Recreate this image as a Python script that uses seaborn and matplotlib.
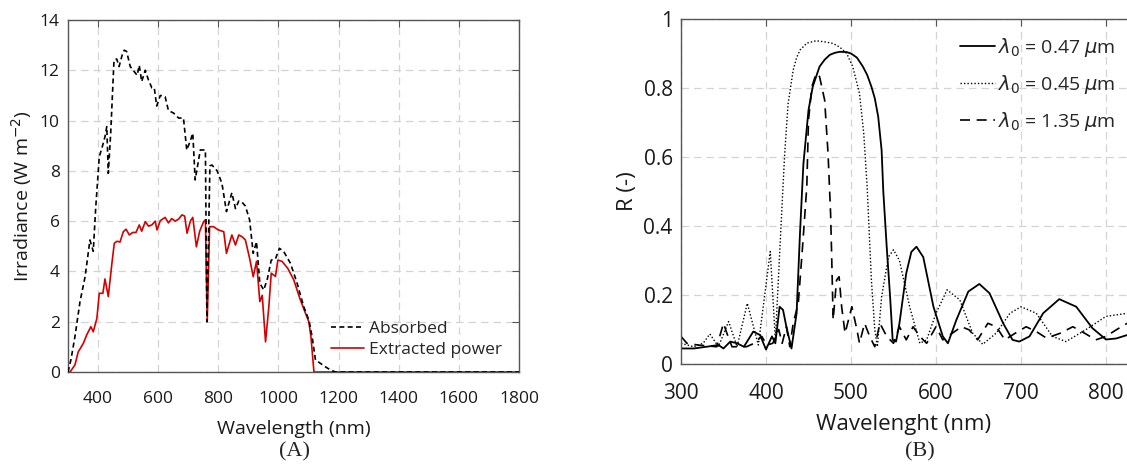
import matplotlib
matplotlib.use("Agg")
import matplotlib.pyplot as plt
import seaborn as sns
import pandas as pd

# ---------------- Panel A data ----------------
abs_wl = [300, 310, 323, 340, 357, 373, 384, 392, 404, 415, 423, 429, 434, 442, 453, 462, 470,
          480, 487, 495, 507, 520, 530, 537, 545, 557, 568, 579, 587, 595, 607, 623, 634, 651,
          668, 684, 695, 707, 715, 723, 740, 757, 762, 772, 779, 796, 812, 827, 845, 857, 868,
          879, 890, 904, 916, 927, 938, 951, 963, 976, 990, 1003, 1017, 1040, 1062, 1084, 1101,
          1112, 1123, 1140, 1157, 1173, 1190, 1800]
abs_val = [0, 0.5, 1.4, 2.8, 3.8, 5.25, 4.8, 6.5, 8.56, 9.0, 9.36, 9.76, 7.9, 9.5, 12.4, 12.45,
           12.15, 12.6, 12.8, 12.75, 12.15, 11.95, 11.8, 12.2, 11.55, 12.0, 11.6, 11.3, 11.3,
           10.58, 11.0, 10.95, 10.4, 10.3, 10.1, 10.1, 8.83, 9.2, 9.5, 7.64, 8.83, 8.83, 2.0,
           8.2, 8.23, 8.0, 7.5, 6.38, 7.13, 6.5, 6.8, 6.75, 6.6, 6.05, 4.72, 5.18, 3.53, 3.26,
           3.7, 4.45, 4.5, 4.92, 4.8, 4.32, 3.53, 2.6, 2.07, 1.4, 0.48, 0.34, 0.2, 0.08, 0, 0]

ext_wl = [300, 307, 323, 334, 351, 362, 376, 384, 396, 404, 416, 423, 434, 446, 454, 463, 473,
          484, 493, 504, 515, 526, 537, 545, 557, 568, 579, 590, 596, 607, 623, 634, 645, 657,
          668, 679, 688, 696, 707, 715, 727, 738, 751, 757, 763, 771, 784, 800, 818, 827, 845,
          857, 868, 879, 890, 904, 916, 927, 938, 946, 957, 968, 976, 990, 998, 1012, 1031, 1051,
          1071, 1090, 1101, 1108, 1118, 1800]
ext_val = [0, 0, 0.28, 0.8, 1.14, 1.47, 1.8, 1.6, 2.13, 3.13, 3.13, 3.7, 3.0, 4.32, 5.12, 5.2,
           5.17, 5.58, 5.68, 5.45, 5.55, 5.55, 5.85, 5.6, 5.98, 5.8, 5.85, 6.0, 5.65, 6.02, 6.15,
           5.93, 6.1, 6.0, 6.08, 6.25, 6.2, 5.52, 6.0, 6.15, 4.98, 5.6, 5.98, 6.05, 2.0, 5.78,
           5.78, 5.65, 5.58, 4.72, 5.45, 5.05, 5.45, 5.38, 5.25, 4.52, 3.79, 4.4, 2.8, 3.05, 1.2,
           2.6, 3.93, 3.8, 4.45, 4.4, 4.12, 3.66, 2.93, 2.33, 2.0, 1.4, 0, 0]

a_labels = ["Absorbed", "Extracted power"]

# ---------------- Panel B data ----------------
s047_wl = [300, 315, 330, 344, 350, 358, 366, 374, 385, 393, 400, 407, 411, 416, 420, 424, 430,
           436, 440, 444, 450, 455, 463, 469, 475, 481, 487, 495, 500, 507, 514, 519, 524, 528,
           532, 536, 538, 542, 546, 549, 553, 557, 565, 571, 577, 585, 597, 608, 614, 624, 638,
           651, 663, 679, 690, 698, 710, 726, 745, 765, 784, 800, 812, 825]
s047_R = [0.045, 0.045, 0.05, 0.055, 0.045, 0.065, 0.06, 0.05, 0.094, 0.084, 0.042, 0.08, 0.06,
          0.166, 0.157, 0.108, 0.045, 0.147, 0.38, 0.58, 0.736, 0.804, 0.862, 0.882, 0.896,
          0.902, 0.905, 0.904, 0.9, 0.888, 0.862, 0.838, 0.804, 0.77, 0.717, 0.62, 0.5, 0.34,
          0.195, 0.07, 0.065, 0.118, 0.263, 0.325, 0.34, 0.31, 0.166, 0.08, 0.06, 0.128, 0.21,
          0.232, 0.205, 0.118, 0.07, 0.065, 0.08, 0.147, 0.188, 0.166, 0.104, 0.071, 0.074, 0.084]

s045_wl = [300, 315, 326, 334, 344, 356, 366, 378, 391, 405, 411, 418, 422, 426, 432, 436, 440,
           448, 459, 471, 479, 487, 495, 502, 510, 515, 519, 524, 528, 531, 536, 544, 550, 557,
           569, 581, 589, 600, 613, 628, 643, 655, 671, 687, 700, 718, 737, 753, 776, 800, 825]
s045_R = [0.06, 0.05, 0.06, 0.087, 0.05, 0.123, 0.05, 0.176, 0.055, 0.326, 0.069, 0.417, 0.61,
          0.755, 0.852, 0.888, 0.91, 0.93, 0.937, 0.933, 0.929, 0.918, 0.9, 0.862, 0.784, 0.668,
          0.514, 0.243, 0.099, 0.05, 0.195, 0.31, 0.331, 0.3, 0.166, 0.06, 0.07, 0.147, 0.215,
          0.186, 0.09, 0.057, 0.09, 0.147, 0.166, 0.147, 0.08, 0.065, 0.099, 0.138, 0.147]

s135_wl = [300, 307, 320, 342, 350, 354, 360, 368, 377, 386, 395, 401, 408, 415, 419, 424, 428,
           432, 438, 443, 448, 450, 454, 459, 463, 469, 473, 476, 477, 479, 483, 486, 489, 493,
           501, 507, 510, 516, 522, 528, 534, 542, 550, 557, 565, 573, 581, 589, 600, 608, 619,
           630, 639, 649, 661, 671, 681, 693, 706, 718, 730, 746, 761, 775, 788, 800, 812, 825]
s135_R = [0.08, 0.06, 0.055, 0.05, 0.118, 0.089, 0.05, 0.05, 0.05, 0.06, 0.08, 0.055, 0.06, 0.1,
          0.06, 0.108, 0.05, 0.118, 0.176, 0.34, 0.514, 0.707, 0.804, 0.842, 0.833, 0.765, 0.61,
          0.436, 0.34, 0.128, 0.243, 0.253, 0.166, 0.089, 0.166, 0.099, 0.06, 0.118, 0.08, 0.05,
          0.118, 0.08, 0.06, 0.108, 0.07, 0.108, 0.08, 0.06, 0.108, 0.07, 0.089, 0.108, 0.099,
          0.07, 0.118, 0.108, 0.07, 0.089, 0.108, 0.094, 0.075, 0.089, 0.108, 0.089, 0.07, 0.08,
          0.099, 0.118]

b_labels = [r"$\lambda_0$ = 0.47 $\mu$m", r"$\lambda_0$ = 0.45 $\mu$m", r"$\lambda_0$ = 1.35 $\mu$m"]

# ---------------- Style ----------------
sns.set_style("white")
plt.rcParams["font.family"] = ["Open Sans", "DejaVu Sans"]
plt.rcParams["mathtext.fontset"] = "dejavusans"

fig = plt.figure(figsize=(11.27, 4.66), dpi=100)
W, H = 1127, 466
axA = fig.add_axes([68 / W, 1 - 372 / H, (519 - 68) / W, (372 - 20) / H])
axB = fig.add_axes([681 / W, 1 - 364 / H, (1127 - 681) / W, (364 - 19) / H])

spine_col = "#555555"
grid_kw = dict(color="#d4d4d4", linestyle=(0, (6, 4)), linewidth=0.9)

# Panel A
dfA1 = pd.DataFrame({"wl": abs_wl, "val": abs_val})
dfA2 = pd.DataFrame({"wl": ext_wl, "val": ext_val})
sns.lineplot(data=dfA2, x="wl", y="val", ax=axA, color="#d40000", linewidth=1.2,
             label=a_labels[1], sort=False, zorder=3)
sns.lineplot(data=dfA1, x="wl", y="val", ax=axA, color="black", linewidth=1.2,
             linestyle=(0, (3, 2)), label=a_labels[0], sort=False, zorder=4)
axA.set_xlim(300, 1800)
axA.set_ylim(0, 14)
axA.set_xticks(range(400, 1801, 200))
axA.set_yticks(range(0, 15, 2))
axA.grid(True, **grid_kw)
axA.set_axisbelow(True)
axA.tick_params(direction="in", length=5, top=True, right=True, labelsize=12.5,
                colors=spine_col, labelcolor="#1a1a1a", pad=6)
axA.tick_params(axis="x", pad=14)
for sp in axA.spines.values():
    sp.set_color(spine_col)
    sp.set_linewidth(1.0)
axA.set_xlabel("Wavelength (nm)", fontsize=14, color="#1a1a1a", labelpad=9)
axA.set_ylabel("Irradiance (W m$^{-2}$)", fontsize=14, color="#1a1a1a", labelpad=4)
h, l = axA.get_legend_handles_labels()
axA.legend([h[1], h[0]], [l[1], l[0]], loc="lower right", bbox_to_anchor=(0.985, 0.01),
           frameon=False, fontsize=12.5, handlelength=1.95, handletextpad=0.25,
           borderaxespad=0.2, labelspacing=0.3)

# Panel B
dfB1 = pd.DataFrame({"wl": s047_wl, "R": s047_R})
dfB2 = pd.DataFrame({"wl": s045_wl, "R": s045_R})
dfB3 = pd.DataFrame({"wl": s135_wl, "R": s135_R})
sns.lineplot(data=dfB1, x="wl", y="R", ax=axB, color="black", linewidth=1.3,
             linestyle="-", label=b_labels[0], sort=False)
sns.lineplot(data=dfB2, x="wl", y="R", ax=axB, color="black", linewidth=1.0,
             linestyle=(0, (1, 1.5)), label=b_labels[1], sort=False)
sns.lineplot(data=dfB3, x="wl", y="R", ax=axB, color="black", linewidth=1.2,
             linestyle=(0, (6, 4)), label=b_labels[2], sort=False)
axB.set_xlim(300, 300 + (1127 - 681) / 0.85)
axB.set_ylim(0, 1)
axB.set_xticks(range(300, 801, 100))
axB.set_yticks([0, 0.2, 0.4, 0.6, 0.8, 1])
axB.set_yticklabels(["0", "0.2", "0.4", "0.6", "0.8", "1"])
axB.grid(True, **grid_kw)
axB.set_axisbelow(True)
axB.tick_params(direction="in", length=5, top=True, right=False, labelsize=15,
                colors=spine_col, labelcolor="#1a1a1a", pad=6)
axB.tick_params(axis="x", pad=14)
for sp in axB.spines.values():
    sp.set_color(spine_col)
    sp.set_linewidth(1.0)
axB.spines["right"].set_visible(False)
axB.set_xlabel("Wavelenght (nm)", fontsize=16, color="#1a1a1a", labelpad=7)
axB.set_ylabel("R (-)", fontsize=16, color="#1a1a1a", labelpad=4)
axB.legend(loc="upper right", bbox_to_anchor=(1.0, 0.985), frameon=False, fontsize=14,
           handlelength=1.8, handletextpad=0.15, labelspacing=0.72, borderaxespad=0.2)

fig.text(295 / W, 1 - 452 / H, "(A)", fontsize=16, family="Liberation Serif",
         ha="center", va="center")
fig.text(920 / W, 1 - 452 / H, "(B)", fontsize=16, family="Liberation Serif",
         ha="center", va="center")

fig.savefig("out.png", dpi=100)
